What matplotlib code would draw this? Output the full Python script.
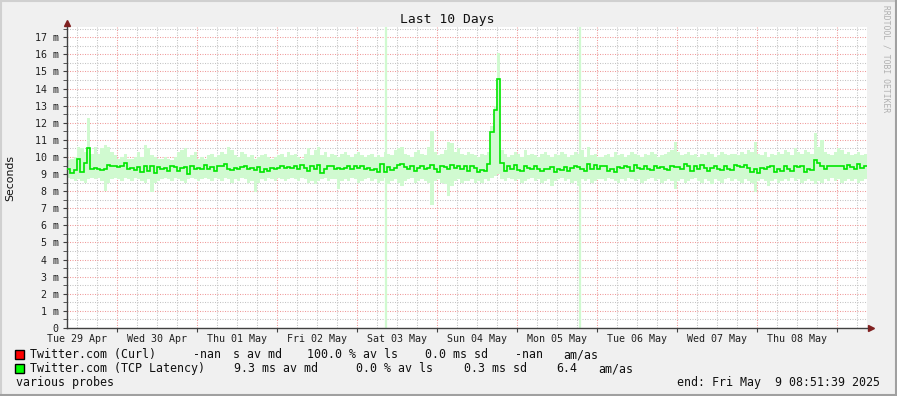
import matplotlib
matplotlib.use('Agg')
import matplotlib.pyplot as plt
import matplotlib.dates as mdates
from matplotlib.ticker import MultipleLocator, FuncFormatter
from matplotlib.patches import Rectangle
from matplotlib.lines import Line2D
from datetime import datetime, timedelta

# hourly values (ms), 10 days ending Fri May 9 08:51:39 2025
start = datetime(2025, 4, 29, 8, 51, 39)

median = [
    9.27, 9.05, 9.25, 9.87, 9.10, 9.62, 10.55, 9.30, 9.35, 9.30,
    9.25, 9.30, 9.55, 9.50, 9.45, 9.40, 9.45, 9.65, 9.30, 9.35,
    9.25, 9.40, 9.10, 9.45, 9.20, 9.50, 9.05, 9.40, 9.30, 9.35,
    9.20, 9.45, 9.40, 9.20, 9.35, 9.40, 9.00, 9.45, 9.30, 9.35,
    9.30, 9.55, 9.30, 9.40, 9.20, 9.50, 9.45, 9.60, 9.30, 9.25,
    9.35, 9.30, 9.40, 9.45, 9.30, 9.35, 9.25, 9.40, 9.15, 9.30,
    9.20, 9.35, 9.30, 9.35, 9.45, 9.35, 9.40, 9.35, 9.50, 9.30,
    9.55, 9.35, 9.20, 9.45, 9.30, 9.55, 9.05, 9.30, 9.45, 9.50,
    9.30, 9.35, 9.30, 9.35, 9.45, 9.30, 9.50, 9.35, 9.45, 9.30,
    9.35, 9.25, 9.30, 9.15, 9.60, 9.15, 9.40, 9.25, 9.35, 9.55,
    9.60, 9.40, 9.30, 9.45, 9.20, 9.35, 9.45, 9.30, 9.35, 9.55,
    9.30, 9.10, 9.45, 9.40, 9.30, 9.55, 9.35, 9.45, 9.30, 9.45,
    9.20, 9.50, 9.35, 9.10, 9.25, 9.20, 9.60, 11.47, 12.73, 14.58,
    9.65, 9.20, 9.50, 9.30, 9.55, 9.25, 9.20, 9.45, 9.35, 9.30,
    9.50, 9.30, 9.20, 9.30, 9.30, 9.40, 9.15, 9.30, 9.25, 9.40,
    9.20, 9.35, 9.45, 9.40, 9.30, 9.20, 9.60, 9.30, 9.55, 9.30,
    9.45, 9.50, 9.20, 9.30, 9.10, 9.40, 9.35, 9.45, 9.40, 9.20,
    9.55, 9.35, 9.30, 9.45, 9.30, 9.25, 9.50, 9.35, 9.40, 9.30,
    9.25, 9.45, 9.40, 9.40, 9.30, 9.60, 9.50, 9.20, 9.45, 9.30,
    9.55, 9.35, 9.20, 9.35, 9.45, 9.30, 9.25, 9.50, 9.30, 9.25,
    9.55, 9.50, 9.40, 9.55, 9.35, 9.10, 9.30, 9.05, 9.35, 9.30,
    9.40, 9.45, 9.10, 9.30, 9.20, 9.45, 9.30, 9.20, 9.50, 9.40,
    9.50, 9.10, 9.30, 9.25, 9.80, 9.65, 9.45, 9.30, 9.50, 9.45,
    9.45, 9.50, 9.45, 9.30, 9.55, 9.40, 9.30, 9.60, 9.35, 9.45,
]

smoke_hi = [
    9.8, 9.9, 10.0, 10.6, 10.5, 10.3, 12.3, 10.2, 10.6, 10.2,
    10.5, 10.7, 10.6, 10.3, 10.1, 9.9, 10.0, 10.2, 9.9, 9.9,
    10.0, 10.3, 10.0, 10.7, 10.5, 10.1, 10.0, 9.9, 9.9, 10.0,
    9.9, 9.8, 10.0, 10.3, 10.4, 10.5, 10.0, 10.1, 10.3, 9.9,
    10.0, 9.9, 10.1, 10.2, 10.0, 10.1, 10.3, 10.2, 10.6, 10.4,
    10.1, 10.0, 10.3, 10.2, 10.0, 10.1, 9.9, 10.0, 10.1, 10.2,
    10.0, 9.9, 10.0, 10.1, 10.2, 10.0, 10.3, 10.1, 10.2, 10.0,
    9.9, 10.2, 10.5, 10.1, 10.4, 10.6, 10.1, 10.3, 10.0, 10.2,
    10.1, 10.0, 10.2, 10.3, 10.1, 10.0, 10.2, 10.3, 10.1, 10.0,
    10.1, 10.2, 10.0, 10.1, 10.0, 10.3, 10.2, 10.1, 10.4, 10.5,
    10.6, 10.2, 10.1, 10.0, 10.3, 10.4, 10.2, 10.1, 10.6, 11.5,
    10.3, 10.1, 10.2, 10.4, 10.9, 10.8, 10.3, 10.5, 10.2, 10.1,
    10.3, 10.2, 10.1, 10.0, 10.2, 10.1, 10.3, 11.8, 13.0, 16.06,
    10.4, 10.2, 10.0, 10.1, 10.3, 10.2, 10.0, 10.4, 10.1, 10.2,
    10.1, 10.0, 10.2, 10.3, 10.1, 10.0, 10.2, 10.1, 10.3, 10.2,
    10.0, 10.1, 10.3, 10.2, 10.4, 10.0, 10.6, 10.1, 10.2, 10.0,
    10.0, 10.1, 10.2, 10.0, 10.3, 10.1, 10.2, 10.0, 10.1, 10.3,
    10.2, 10.1, 10.0, 10.2, 10.1, 10.3, 10.2, 10.0, 10.1, 10.2,
    10.3, 10.4, 10.9, 10.3, 10.1, 10.2, 10.3, 10.1, 10.2, 10.0,
    10.2, 10.1, 10.3, 10.2, 10.0, 10.1, 10.3, 10.2, 10.1, 10.2,
    10.2, 10.1, 10.3, 10.2, 10.4, 10.3, 10.9, 10.2, 10.1, 10.3,
    10.0, 10.2, 10.1, 10.3, 10.2, 10.4, 10.3, 10.1, 10.5, 10.3,
    10.2, 10.4, 10.3, 10.2, 11.4, 10.6, 11.0, 10.3, 10.2, 10.1,
    10.3, 10.5, 10.4, 10.2, 10.3, 10.1, 10.2, 10.3, 10.1, 10.2,
]

smoke_lo = [
    8.8, 8.7, 8.6, 8.7, 8.6, 8.5, 8.7, 8.8, 8.7, 8.8,
    8.6, 8.0, 8.5, 8.7, 8.8, 8.7, 8.6, 8.8, 8.7, 8.6,
    8.8, 8.7, 8.6, 8.5, 8.7, 7.95, 8.5, 8.6, 8.7, 8.8,
    8.7, 8.6, 8.8, 8.7, 8.6, 8.5, 8.7, 8.8, 8.7, 8.6,
    8.7, 8.8, 8.7, 8.6, 8.8, 8.7, 8.6, 8.8, 8.7, 8.5,
    8.7, 8.6, 8.8, 8.7, 8.5, 8.6, 7.96, 8.5, 8.7, 8.6,
    8.8, 8.7, 8.6, 8.8, 8.7, 8.6, 8.7, 8.8, 8.7, 8.6,
    8.8, 8.7, 8.5, 8.6, 8.4, 8.6, 8.7, 8.8, 8.6, 8.7,
    8.7, 8.1, 8.6, 8.7, 8.6, 8.8, 8.7, 8.5, 8.6, 8.7,
    8.8, 8.6, 8.7, 8.5, 8.6, 8.8, 8.4, 8.6, 8.7, 8.5,
    8.3, 8.6, 8.7, 8.8, 8.5, 8.6, 8.7, 8.6, 8.5, 7.2,
    8.6, 8.7, 8.5, 8.4, 7.7, 8.3, 8.6, 8.7, 8.5, 8.6,
    8.6, 8.7, 8.5, 8.6, 8.5, 8.7, 8.6, 8.8, 8.9, 9.0,
    8.7, 8.6, 8.8, 8.7, 8.6, 8.7, 8.5, 8.6, 8.7, 8.8,
    8.6, 8.7, 8.5, 8.6, 8.7, 8.3, 8.6, 8.7, 8.8, 8.6,
    8.7, 8.5, 8.6, 8.3, 8.7, 8.6, 8.7, 8.5, 8.6, 8.7,
    8.7, 8.6, 8.8, 8.7, 8.6, 8.5, 8.7, 8.6, 8.8, 8.7,
    8.6, 8.7, 8.5, 8.6, 8.7, 8.8, 8.6, 8.7, 8.5, 8.6,
    8.7, 8.6, 8.15, 8.6, 8.7, 8.5, 8.6, 8.7, 8.8, 8.6,
    8.5, 8.7, 8.6, 8.4, 8.7, 8.6, 8.5, 8.7, 8.8, 8.6,
    8.7, 8.6, 8.5, 8.7, 8.6, 8.5, 7.96, 8.6, 8.7, 8.6,
    8.3, 8.6, 8.7, 8.5, 8.6, 8.7, 8.6, 8.8, 8.6, 8.7,
    8.5, 8.6, 8.7, 8.6, 8.4, 8.6, 8.5, 8.7, 8.6, 8.8,
    8.6, 8.7, 8.5, 8.6, 8.7, 8.6, 8.7, 8.5, 8.6, 8.7,
]

# hours (from start) where the smoke spans the whole graph
loss_hours = [95.8, 153.8]

legend_rows = [
    ('#ff0000', [('Twitter.com (Curl)', 30), ('-nan', 193), ('s av md', 233),
                 ('100.0 % av ls', 307), ('0.0 ms sd', 425), ('-nan', 515), ('am/as', 563)]),
    ('#00ff00', [('Twitter.com (TCP Latency)', 30), ('9.3 ms av md', 234),
                 ('0.0 % av ls', 356), ('0.3 ms sd', 464), ('6.4', 556), ('am/as', 598)]),
]

W, H = 897, 396
mono = 'DejaVu Sans Mono'

fig = plt.figure(figsize=(W / 100, H / 100), dpi=100, facecolor='#f0f0f0')
ax = fig.add_axes([67 / W, (H - 328) / H, 800 / W, 301 / H])
ax.set_facecolor('white')

edges = mdates.date2num([start + timedelta(hours=i) for i in range(len(median) + 1)])
ax.stairs(smoke_hi, edges, baseline=smoke_lo, fill=True, color='#d0fad0', lw=0, zorder=2)
loss_x = mdates.date2num([start + timedelta(hours=h) for h in loss_hours])
ax.vlines(loss_x, 0, 17.6, color='#d0fad0', lw=1.6, zorder=2)
ax.stairs(median, edges, baseline=None, color='#00e600', lw=1.2, zorder=3)

ax.set_xlim(mdates.date2num(start), mdates.date2num(start + timedelta(days=10)))
ax.set_ylim(0, 17.6)

# grid
ax.xaxis_date()
ax.xaxis.set_major_locator(mdates.DayLocator())
ax.xaxis.set_minor_locator(mdates.HourLocator(byhour=[6, 12, 18]))
ax.xaxis.set_major_formatter(FuncFormatter(lambda v, p: ''))
ax.xaxis.set_minor_formatter(FuncFormatter(
    lambda v, p: mdates.num2date(v).strftime('%a %d %b') if mdates.num2date(v).hour == 12 else ''))
ax.yaxis.set_major_locator(MultipleLocator(1))
ax.yaxis.set_minor_locator(MultipleLocator(0.5))
ax.yaxis.set_major_formatter(FuncFormatter(lambda v, p: '0' if v == 0 else '%d m' % v))

dots = (0, (1, 1.4))
ax.grid(True, which='major', color='#f09a9a', lw=0.75, ls=dots, zorder=1)
ax.grid(True, which='minor', color='#c4c4c4', lw=0.75, ls=dots, zorder=1)
ax.set_axisbelow(True)

ax.tick_params(axis='y', which='both', length=3, color='#404040', labelsize=7.2, pad=3,
               labelfontfamily=mono, labelcolor='#202020')
ax.tick_params(axis='x', which='major', length=3, color='#404040')
ax.tick_params(axis='x', which='minor', length=0, labelsize=7.2, pad=4,
               labelfontfamily=mono, labelcolor='#202020')

for s in ['top', 'right']:
    ax.spines[s].set_visible(False)
for s in ['left', 'bottom']:
    ax.spines[s].set_color('#404040')
    ax.spines[s].set_linewidth(1)

# axis arrows
ax.plot([0], [1.012], marker='^', color='#802020', ms=5, transform=ax.transAxes, clip_on=False)
ax.plot([1.005], [0], marker='>', color='#802020', ms=5, transform=ax.transAxes, clip_on=False)

fig.text(447.5 / W, 1 - 19 / H, 'Last 10 Days', family=mono, fontsize=9.4,
         ha='center', va='center', color='#101010')
fig.text(10 / W, 1 - 178 / H, 'Seconds', rotation=90, fontsize=7.8,
         ha='center', va='center', color='#101010')
fig.text(886 / W, 1 - 5 / H, 'RRDTOOL / TOBI OETIKER', family=mono, fontsize=5.8,
         rotation=270, ha='center', va='top', color='#b0b0b0')

# legend
for i, (col, parts) in enumerate(legend_rows):
    yc = 354.5 + 14 * i
    fig.patches.append(Rectangle((15 / W, 1 - (yc + 4.5) / H), 9 / W, 9 / H,
                                 transform=fig.transFigure, facecolor=col,
                                 edgecolor='black', lw=1))
    for txt, xp in parts:
        fig.text(xp / W, 1 - yc / H, txt, family=mono, fontsize=8.4,
                 ha='left', va='center', color='#101010')

fig.text(16 / W, 1 - 382.5 / H, 'various probes', family=mono, fontsize=8.4,
         ha='left', va='center', color='#101010')
fig.text(880 / W, 1 - 382.5 / H, 'end: Fri May  9 08:51:39 2025', family=mono,
         fontsize=8.4, ha='right', va='center', color='#101010')

# 3d frame
fig.lines.append(Line2D([0, 1], [1 - 1 / H, 1 - 1 / H], transform=fig.transFigure, color='#d0d0d0', lw=1.5))
fig.lines.append(Line2D([1 / W, 1 / W], [0, 1], transform=fig.transFigure, color='#d0d0d0', lw=1.5))
fig.lines.append(Line2D([0, 1], [1 / H, 1 / H], transform=fig.transFigure, color='#a0a0a0', lw=1.5))
fig.lines.append(Line2D([1 - 1 / W, 1 - 1 / W], [0, 1], transform=fig.transFigure, color='#a0a0a0', lw=1.5))

fig.savefig('out.png', dpi=100, facecolor=fig.get_facecolor())
